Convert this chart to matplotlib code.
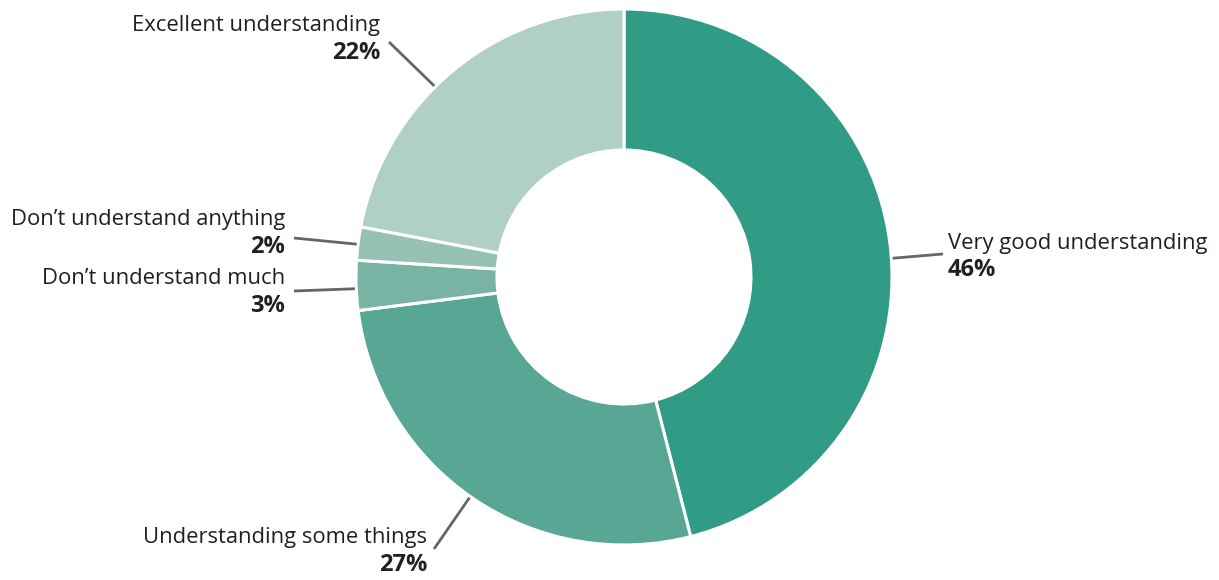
import numpy as np
import matplotlib
matplotlib.use('Agg')
import matplotlib.pyplot as plt

plt.rcParams.update({'font.family': 'Open Sans', 'font.size': 15.8})

labels = ['Very good understanding', 'Understanding some things',
          "Don\u2019t understand much", "Don\u2019t understand anything",
          'Excellent understanding']
values = [46, 27, 3, 2, 22]
colors = ['#319c86', '#58a794', '#79b3a3', '#96c2b6', '#b0d0c6']

# figure pixels, donut centre / radius in pixels
W, H = 1219, 580
CX, CY, R = 624, 277, 268

def to_data(px, py):
    return (px - CX) / R, (CY - py) / R

# label layout: leader start angle (deg), text anchor x, label centre y,
# leader end (pixels), alignment
layout = [
    (4.0, 948, 243, (943, 254), 'left'),
    (-125.0, 427, 538, (434, 549), 'right'),
    (182.5, 285, 279, (294, 291), 'right'),
    (173.0, 285, 220, (294, 238), 'right'),
    (134.8, 380, 26, (389, 42), 'right'),
]

fig = plt.figure(figsize=(W / 100, H / 100), dpi=100)
ax = fig.add_axes([0, 0, 1, 1])
ax.pie(values, colors=colors, startangle=90, counterclock=False, radius=1,
       wedgeprops=dict(width=141 / 268, edgecolor='white', linewidth=2.2))

for lab, v, (ang, tx, ty, end, ha) in zip(labels, values, layout):
    a = np.deg2rad(ang)
    x0, y0 = np.cos(a) * 1.005, np.sin(a) * 1.005
    ex, ey = to_data(*end)
    ax.plot([x0, ex], [y0, ey], color='#666666', lw=2, solid_capstyle='butt')
    lx, ly = to_data(tx, ty)
    ax.text(lx, ly, lab, ha=ha, va='center', color='#231f20')
    px, py = to_data(tx, ty + 27)
    ax.text(px, py, f'{v}%', ha=ha, va='center', color='#231f20',
            fontweight='bold', fontsize=17)

ax.set_xlim(-CX / R, (W - CX) / R)
ax.set_ylim(-(H - CY) / R, CY / R)
ax.set_aspect('equal', adjustable='box')
ax.axis('off')

fig.savefig('out.png', dpi=100, facecolor='white')
